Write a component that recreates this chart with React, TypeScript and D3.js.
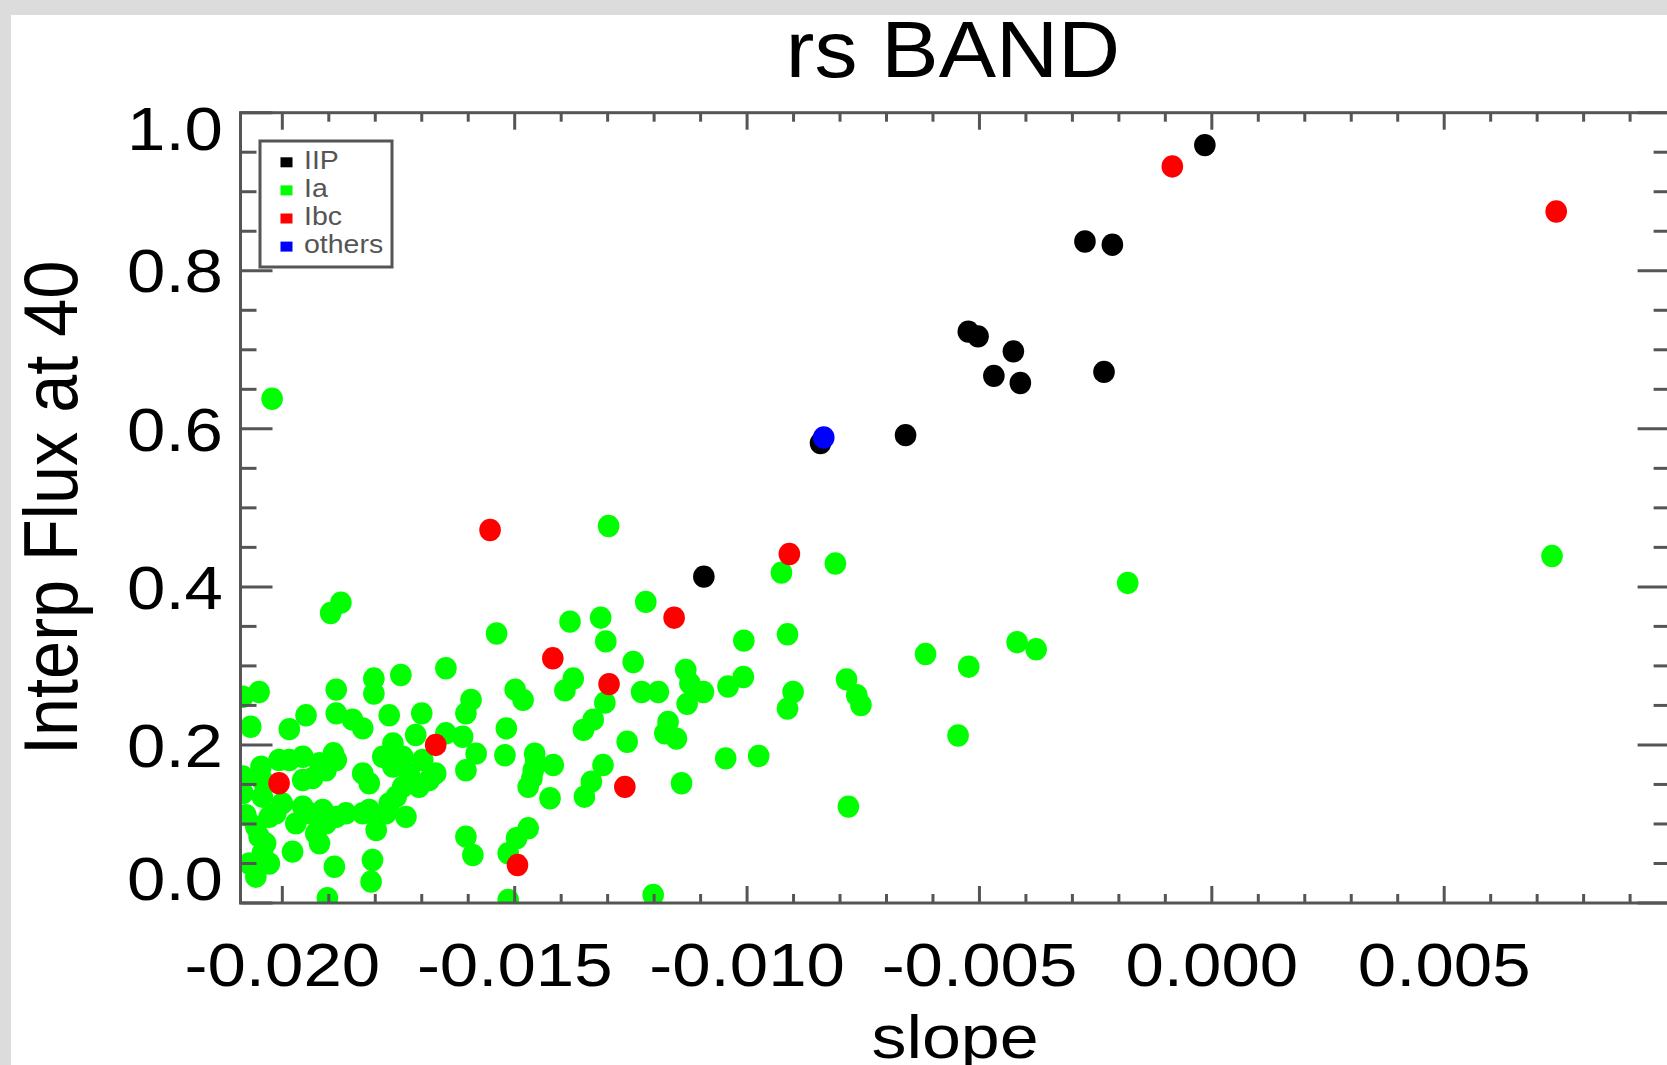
import React from 'react';
import * as d3 from 'd3';

const W = 1667;
const H = 1065;

const xTickValues = [-0.02, -0.015, -0.01, -0.005, 0.0, 0.005];
const xTickLabels = ['-0.020', '-0.015', '-0.010', '-0.005', '0.000', '0.005'];
const yTickValues = [0, 0.2, 0.4, 0.6, 0.8, 1.0];
const yTickLabels = ['0.0', '0.2', '0.4', '0.6', '0.8', '1.0'];

const seriesNames = ['IIP', 'Ia', 'Ibc', 'others'];
const seriesColors = ['#000000', '#00ff00', '#ff0000', '#0000ff'];

// [slope, interp flux at 40]
const iipPoints: [number, number][] = [
  [-0.00015, 0.959], [-0.00273, 0.837], [-0.00214, 0.833], [-0.00524, 0.723],
  [-0.00503, 0.717], [-0.00427, 0.698], [-0.00469, 0.667], [-0.00412, 0.658],
  [-0.00232, 0.672], [-0.00659, 0.592], [-0.00842, 0.582], [-0.01093, 0.413],
];

const iaPoints: [number, number][] = [
  [-0.01896, 0.367], [-0.01874, 0.38], [-0.01648, 0.297], [-0.01745, 0.2885],
  [-0.01803, 0.284], [-0.01803, 0.265], [-0.01884, 0.27], [-0.0205, 0.267],
  [-0.02085, 0.261], [-0.01594, 0.257], [-0.01605, 0.24], [-0.01949, 0.2375],
  [-0.01884, 0.24], [-0.01849, 0.232], [-0.01827, 0.221], [-0.0177, 0.2375],
  [-0.017, 0.24], [-0.02068, 0.223], [-0.01985, 0.22], [-0.01713, 0.2126],
  [-0.01648, 0.2147], [-0.01612, 0.2104], [-0.01583, 0.189], [-0.01605, 0.168],
  [-0.01762, 0.202], [-0.01784, 0.185], [-0.01741, 0.185], [-0.01698, 0.181],
  [-0.0167, 0.164], [-0.01827, 0.164], [-0.01813, 0.1515], [-0.01706, 0.147],
  [-0.01884, 0.181], [-0.01906, 0.168], [-0.01935, 0.158], [-0.01985, 0.181],
  [-0.01956, 0.185], [-0.02046, 0.1725], [-0.02085, 0.16], [-0.02085, 0.139],
  [-0.02043, 0.1345], [-0.02, 0.126], [-0.01956, 0.122], [-0.01913, 0.1177],
  [-0.01863, 0.1135], [-0.01813, 0.1177], [-0.0177, 0.126], [-0.01734, 0.109],
  [-0.02078, 0.111], [-0.02028, 0.109], [-0.01971, 0.1008], [-0.01906, 0.1008],
  [-0.01798, 0.0924], [-0.0205, 0.0839], [-0.0192, 0.0755], [-0.01978, 0.065],
  [-0.02043, 0.0629], [-0.02028, 0.05], [-0.02057, 0.0333], [-0.01888, 0.0459],
  [-0.01806, 0.0544], [-0.01809, 0.027], [-0.01605, 0.0839], [-0.0159, 0.0607],
  [-0.01903, 0.006],
  [-0.02014, 0.1135], [-0.01942, 0.1135], [-0.01884, 0.109], [-0.01928, 0.088],
  [-0.01827, 0.1135], [-0.01777, 0.1135], [-0.01755, 0.1345], [-0.01727, 0.164],
  [-0.01762, 0.1725], [-0.01684, 0.1556], [-0.01741, 0.147], [-0.02043, 0.1556],
  [-0.02057, 0.0966], [-0.02036, 0.0755], [-0.02071, 0.05], [-0.02007, 0.181],
  [-0.0192, 0.1768], [-0.01956, 0.1556], [-0.0189, 0.1894],
  [-0.01298, 0.477], [-0.01218, 0.381], [-0.01381, 0.356], [-0.01315, 0.361],
  [-0.01539, 0.341], [-0.01304, 0.331], [-0.01007, 0.332], [-0.01245, 0.305],
  [-0.01132, 0.295], [-0.01374, 0.284], [-0.01392, 0.269], [-0.01499, 0.27],
  [-0.01482, 0.257], [-0.01306, 0.2535], [-0.01227, 0.267], [-0.01191, 0.267],
  [-0.01123, 0.278], [-0.01094, 0.267], [-0.01129, 0.252], [-0.01041, 0.274],
  [-0.01008, 0.286], [-0.01331, 0.232], [-0.01352, 0.219], [-0.0117, 0.229],
  [-0.01152, 0.208], [-0.01177, 0.2147], [-0.01518, 0.221], [-0.01258, 0.204],
  [-0.01521, 0.187], [-0.01046, 0.183], [-0.01457, 0.189], [-0.0146, 0.168],
  [-0.01417, 0.1746], [-0.01471, 0.147], [-0.01424, 0.1325], [-0.0131, 0.1746],
  [-0.01335, 0.1535], [-0.0135, 0.1345], [-0.01141, 0.1515], [-0.01471, 0.0945],
  [-0.01496, 0.0819], [-0.01514, 0.0629], [-0.01202, 0.0101], [-0.01514, 0.004],
  [-0.01463, 0.158], [-0.01455, 0.178],
  [-0.00926, 0.418], [-0.0081, 0.4296], [-0.00913, 0.34], [-0.00901, 0.267],
  [-0.00913, 0.246], [-0.00786, 0.283], [-0.00764, 0.263], [-0.00755, 0.2505],
  [-0.00975, 0.186], [-0.00782, 0.122], [-0.00616, 0.315], [-0.00523, 0.299],
  [-0.00546, 0.212], [-0.00181, 0.405], [-0.00419, 0.33], [-0.00378, 0.321],
  [-0.02022, 0.638], [0.00732, 0.439],
];

const ibcPoints: [number, number][] = [
  [-0.00085, 0.932], [0.00741, 0.875], [-0.01553, 0.472], [-0.00909, 0.4416],
  [-0.01157, 0.361], [-0.01418, 0.3096], [-0.01297, 0.277], [-0.0167, 0.2],
  [-0.02007, 0.1515], [-0.01263, 0.147], [-0.01494, 0.048],
];

const otherPoints: [number, number][] = [[-0.00835, 0.589]];

const FONT = "'Liberation Sans', Arial, Helvetica, sans-serif";
const AX = '#555555';

export default function App() {
  const left = 240.5, right = 1669.6, top = 112.7, bottom = 903;
  const x = d3.scaleLinear().domain([-0.0209, 0.00985]).range([left, right]);
  const y = d3.scaleLinear().domain([0, 1]).range([bottom, top]);

  const xMinor = d3.range(-20, 10).map((i) => ({ v: i / 1000, major: i % 5 === 0 }));
  const yMinor = d3.range(0, 21).map((i) => ({ v: i * 0.05, major: i % 4 === 0 }));

  const series = [iipPoints, iaPoints, ibcPoints, otherPoints];
  const SY = 0.88;

  return (
    <svg width={W} height={H} style={{ position: 'absolute', left: 0, top: 0 }}
      xmlns="http://www.w3.org/2000/svg">
      <defs>
        <clipPath id="plotclip">
          <rect x={left} y={top} width={right - left} height={bottom - top} />
        </clipPath>
      </defs>
      <rect x={0} y={0} width={W} height={H} fill="#dcdcdd" />
      <rect x={11} y={15} width={W - 11} height={H - 15} fill="#ffffff" />

      {/* points */}
      <g clipPath="url(#plotclip)">
        {series.map((pts, si) => (
          <g key={si} fill={seriesColors[si]}>
            {pts.map((p, i) => (
              <ellipse key={i} cx={x(p[0])} cy={y(p[1])} rx={10.8} ry={11.2} />
            ))}
          </g>
        ))}
      </g>

      {/* frame */}
      <rect x={left} y={top} width={right - left} height={bottom - top}
        fill="none" stroke={AX} strokeWidth={3} />

      {/* ticks on all four sides */}
      <g stroke={AX} strokeWidth={3}>
        {xMinor.map((t, i) => {
          const px = x(t.v);
          const len = t.major ? 17 : 9;
          return (
            <g key={i}>
              <line x1={px} x2={px} y1={bottom} y2={bottom - len} />
              <line x1={px} x2={px} y1={top} y2={top + len} />
            </g>
          );
        })}
        {yMinor.map((t, i) => {
          const py = y(t.v);
          const len = t.major ? 32 : 16;
          return (
            <g key={i}>
              <line x1={left} x2={left + len} y1={py} y2={py} />
              <line x1={right} x2={right - len} y1={py} y2={py} />
            </g>
          );
        })}
      </g>

      {/* x tick labels */}
      {xTickValues.map((v, i) => (
        <text key={i} transform={`translate(${x(v)},986) scale(1,${SY})`}
          textAnchor="middle" fontFamily={FONT} fontSize={69} fill="#000">
          {xTickLabels[i]}
        </text>
      ))}

      {/* y tick labels */}
      {yTickValues.map((v, i) => {
        const base = Math.min(Math.max(y(v) + 21.7, top + 37), bottom - 3);
        return (
          <text key={i} transform={`translate(223,${base}) scale(1,${SY})`}
            textAnchor="end" fontFamily={FONT} fontSize={69} fill="#000">
            {yTickLabels[i]}
          </text>
        );
      })}

      {/* titles */}
      <text transform={`translate(953,77) scale(1,0.93)`} textAnchor="middle"
        fontFamily={FONT} fontSize={86} fill="#000">rs BAND</text>
      <text transform={`translate(${(left + right) / 2},1058) scale(1,${SY})`} textAnchor="middle"
        fontFamily={FONT} fontSize={70} fill="#000">slope</text>
      <text transform={`translate(77,${(top + bottom) / 2}) scale(1,0.9) rotate(-90)`} textAnchor="middle"
        fontFamily={FONT} fontSize={76} fill="#000">Interp Flux at 40</text>

      {/* legend */}
      <rect x={260} y={141} width={132} height={126} fill="none" stroke={AX} strokeWidth={3} />
      {seriesNames.map((name, i) => {
        const cy = 162.3 + i * 28.1;
        return (
          <g key={name}>
            <rect x={280.5} y={cy - 5} width={12} height={10} fill={seriesColors[i]} />
            <text transform={`translate(304,${cy + 6.5}) scale(1,0.875)`}
              fontFamily={FONT} fontSize={28.5} fill={AX}>{name}</text>
          </g>
        );
      })}
    </svg>
  );
}
